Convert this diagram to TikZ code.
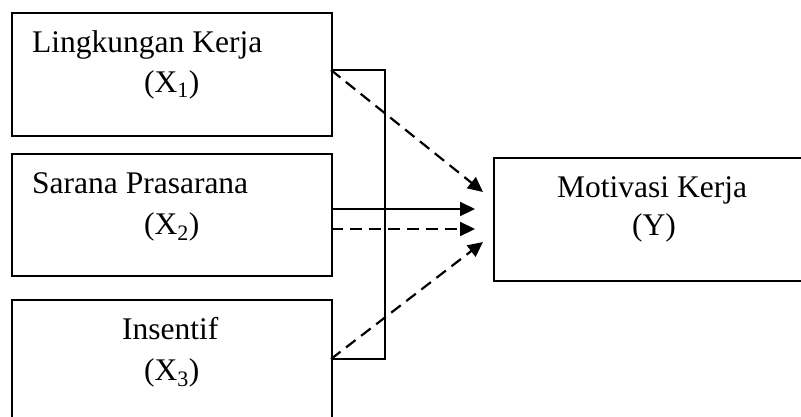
\documentclass[tikz,border=0pt]{standalone}
\usepackage{fontspec}
\setmainfont{Liberation Serif}
\usetikzlibrary{arrows.meta}
\begin{document}
\begin{tikzpicture}[x=1pt,y=-1pt,
  box/.style={draw,line width=2pt,inner sep=0pt,anchor=north west},
  lbl/.style={font=\fontsize{31.5}{36}\selectfont,inner sep=0pt,anchor=base west},
  conn/.style={line width=2.2pt},
  dsh/.style={conn,dash pattern=on 12pt off 7pt},
  tip/.style={-{Triangle[length=15pt,width=14pt]}}]
\useasboundingbox (0,0) rectangle (801,416);
\clip (0,0) rectangle (801,416);
% boxes
\node[box,minimum width=320pt,minimum height=123pt] (b1) at (11,12) {};
\node[box,minimum width=320pt,minimum height=122pt] (b2) at (11,153) {};
\node[box,minimum width=320pt,minimum height=150pt] (b3) at (11,299) {};
\node[box,minimum width=340pt,minimum height=123pt] (by) at (493,157) {};
% texts
\node[lbl] (t1a) at (32,52) {Lingkungan Kerja};
\node[lbl] (t1b) at (144,92) {(X\textsubscript{1})};
\node[lbl] (t2a) at (32,193) {Sarana Prasarana};
\node[lbl] (t2b) at (144,234) {(X\textsubscript{2})};
\node[lbl] (t3a) at (122,339) {Insentif};
\node[lbl] (t3b) at (144,380) {(X\textsubscript{3})};
\node[lbl] (tya) at (557,197) {Motivasi Kerja};
\node[lbl] (tyb) at (632,235) {(Y)};
% connector points
\coordinate (p1) at (331,70);
\coordinate (k1) at (385,70);
\coordinate (k3) at (385,359);
\coordinate (p3) at (331,359);
\coordinate (s2) at (331,209);
\coordinate (d2) at (331,229);
\coordinate (e1) at (483,192);
\coordinate (e2) at (475,209);
\coordinate (e3) at (475,229);
\coordinate (e4) at (483,242);
% bracket
\draw[conn] (p1) -- (k1) -- (k3) -- (p3);
% arrows
\draw[dsh,tip] (p1) -- (e1);
\draw[conn,tip] (s2) -- (e2);
\draw[dsh,tip] (d2) -- (e3);
\draw[dsh,tip] (p3) -- (e4);
\end{tikzpicture}
\end{document}
